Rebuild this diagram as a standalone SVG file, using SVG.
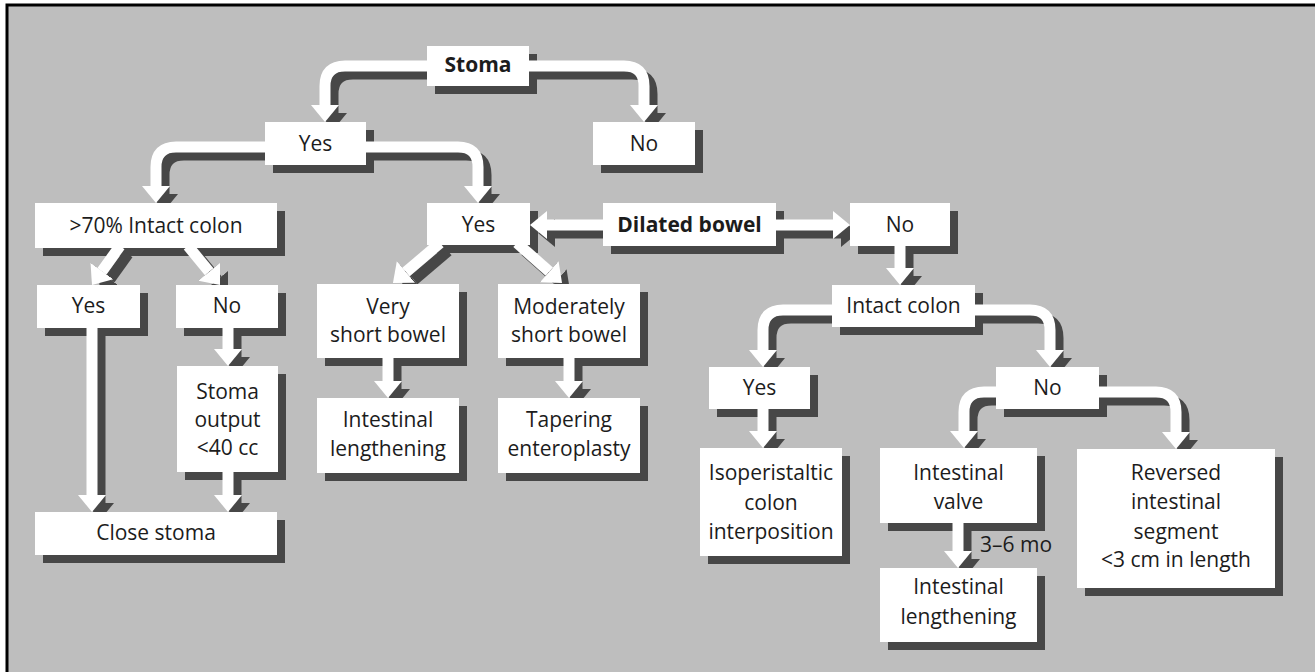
<svg xmlns="http://www.w3.org/2000/svg" xmlns:xlink="http://www.w3.org/1999/xlink" width="1315" height="672" viewBox="0 0 1315 672">
<style>
.bg{fill:#bebebe;stroke:#000;stroke-width:3}
.sh{fill:#474747}
.box{fill:#fff}
.t{font-family:"Open Sans","Liberation Sans",sans-serif;font-size:21px;fill:#1c1c1c;text-anchor:middle}
.b{font-weight:bold}
.cs{fill:none;stroke:#474747;stroke-width:11;stroke-linejoin:round;marker-end:url(#ah-s)}
.cw{fill:none;stroke:#fff;stroke-width:11;stroke-linejoin:round;marker-end:url(#ah-w)}
</style>
<defs>
<marker id="ah-w" markerUnits="userSpaceOnUse" viewBox="0 -15 17 30" markerWidth="17" markerHeight="30" refX="0" refY="0" orient="auto"><path d="M0,-14 L17,0 L0,14 Z" fill="#fff"/></marker>
<marker id="ah-s" markerUnits="userSpaceOnUse" viewBox="0 -15 17 30" markerWidth="17" markerHeight="30" refX="0" refY="0" orient="auto"><path d="M0,-14 L17,0 L0,14 Z" fill="#474747"/></marker>
<path id="c1" d="M427,66 H345 Q325,66 325,86 V105"/>
<path id="c2" d="M529,66 H624 Q644,66 644,86 V105"/>
<path id="c3" d="M265,147 H176 Q156,147 156,167 V186"/>
<path id="c4" d="M366,147 H458 Q478,147 478,167 V186"/>
<path id="c5" d="M120,246 L101.9,271.2"/>
<path id="c6" d="M188,246 L209.2,271.8"/>
<path id="c7" d="M92,328 V495"/>
<path id="c8" d="M228,328 V349"/>
<path id="c9" d="M228,472 V495"/>
<path id="c10" d="M440,243 L405.9,272"/>
<path id="c11" d="M517,243 L549.3,271.7"/>
<path id="c12" d="M388,358 V381"/>
<path id="c13" d="M569,358 V381"/>
<path id="c14" d="M603,225 H547"/>
<path id="c15" d="M776,225 H833"/>
<path id="c16" d="M900,246 V268"/>
<path id="c17" d="M832,310 H783 Q763,310 763,330 V350"/>
<path id="c18" d="M975,310 H1030 Q1050,310 1050,330 V350"/>
<path id="c19" d="M996,392 H984 Q964,392 964,412 V431"/>
<path id="c20" d="M1099,392 H1156 Q1176,392 1176,412 V432"/>
<path id="c21" d="M763,409 V431"/>
<path id="c22" d="M958,523 V551"/>
</defs>
<rect x="0" y="0" width="1315" height="672" fill="#fff"/>
<rect class="bg" x="7" y="5" width="1330" height="690"/>
<g id="node-shadows" class="sh" transform="translate(8,8)">
<rect x="427" y="46" width="102" height="40"/>
<rect x="265" y="122" width="101" height="43"/>
<rect x="593" y="122" width="102" height="43"/>
<rect x="35" y="203" width="242" height="45"/>
<rect x="427" y="203" width="103" height="42"/>
<rect x="603" y="203" width="173" height="43"/>
<rect x="850" y="203" width="100" height="43"/>
<rect x="37" y="285" width="103" height="43"/>
<rect x="176" y="285" width="102" height="43"/>
<rect x="177" y="366" width="101" height="106"/>
<rect x="35" y="512" width="242" height="43"/>
<rect x="317" y="284" width="142" height="74"/>
<rect x="498" y="284" width="142" height="74"/>
<rect x="317" y="398" width="142" height="75"/>
<rect x="498" y="398" width="142" height="75"/>
<rect x="832" y="285" width="143" height="42"/>
<rect x="709" y="367" width="101" height="42"/>
<rect x="996" y="367" width="103" height="42"/>
<rect x="700" y="448" width="142" height="108"/>
<rect x="880" y="448" width="157" height="75"/>
<rect x="880" y="568" width="157" height="74"/>
<rect x="1077" y="449" width="198" height="139"/>
</g>
<g id="connectors">
<g class="cs" transform="translate(8,8)">
<use href="#c1"/><use href="#c2"/><use href="#c3"/><use href="#c4"/><use href="#c5"/><use href="#c6"/><use href="#c7"/><use href="#c8"/><use href="#c9"/><use href="#c10"/><use href="#c11"/><use href="#c12"/><use href="#c13"/><use href="#c14"/><use href="#c15"/><use href="#c16"/><use href="#c17"/><use href="#c18"/><use href="#c19"/><use href="#c20"/><use href="#c21"/><use href="#c22"/>
</g>
<g class="cw">
<use href="#c1"/><use href="#c2"/><use href="#c3"/><use href="#c4"/><use href="#c5"/><use href="#c6"/><use href="#c7"/><use href="#c8"/><use href="#c9"/><use href="#c10"/><use href="#c11"/><use href="#c12"/><use href="#c13"/><use href="#c14"/><use href="#c15"/><use href="#c16"/><use href="#c17"/><use href="#c18"/><use href="#c19"/><use href="#c20"/><use href="#c21"/><use href="#c22"/>
</g>
<text class="t" x="980" y="552" style="text-anchor:start">3–6 mo</text>
</g>
<g id="n-stoma"><rect class="box" x="427" y="46" width="102" height="40"/><text class="t b" x="478" y="72">Stoma</text></g>
<g id="n-yes1"><rect class="box" x="265" y="122" width="101" height="43"/><text class="t" x="315.5" y="151">Yes</text></g>
<g id="n-no1"><rect class="box" x="593" y="122" width="102" height="43"/><text class="t" x="644" y="151">No</text></g>
<g id="n-intact70"><rect class="box" x="35" y="203" width="242" height="45"/><text class="t" x="156" y="233">&gt;70% Intact colon</text></g>
<g id="n-yes2"><rect class="box" x="427" y="203" width="103" height="42"/><text class="t" x="478.5" y="232">Yes</text></g>
<g id="n-dilated"><rect class="box" x="603" y="203" width="173" height="43"/><text class="t b" x="689.5" y="232">Dilated bowel</text></g>
<g id="n-no2"><rect class="box" x="850" y="203" width="100" height="43"/><text class="t" x="900" y="232">No</text></g>
<g id="n-yesA"><rect class="box" x="37" y="285" width="103" height="43"/><text class="t" x="88.5" y="313">Yes</text></g>
<g id="n-noA"><rect class="box" x="176" y="285" width="102" height="43"/><text class="t" x="227" y="313">No</text></g>
<g id="n-stomaout"><rect class="box" x="177" y="366" width="101" height="106"/><text class="t" x="227.5" y="399">Stoma</text><text class="t" x="227.5" y="427">output</text><text class="t" x="227.5" y="455">&lt;40 cc</text></g>
<g id="n-close"><rect class="box" x="35" y="512" width="242" height="43"/><text class="t" x="156" y="540">Close stoma</text></g>
<g id="n-veryshort"><rect class="box" x="317" y="284" width="142" height="74"/><text class="t" x="388" y="314">Very</text><text class="t" x="388" y="342">short bowel</text></g>
<g id="n-moderately"><rect class="box" x="498" y="284" width="142" height="74"/><text class="t" x="569" y="314">Moderately</text><text class="t" x="569" y="342">short bowel</text></g>
<g id="n-intlen1"><rect class="box" x="317" y="398" width="142" height="75"/><text class="t" x="388" y="427">Intestinal</text><text class="t" x="388" y="456">lengthening</text></g>
<g id="n-tapering"><rect class="box" x="498" y="398" width="142" height="75"/><text class="t" x="569" y="427">Tapering</text><text class="t" x="569" y="456">enteroplasty</text></g>
<g id="n-intactcolon"><rect class="box" x="832" y="285" width="143" height="42"/><text class="t" x="903.5" y="313">Intact colon</text></g>
<g id="n-yesB"><rect class="box" x="709" y="367" width="101" height="42"/><text class="t" x="759.5" y="395">Yes</text></g>
<g id="n-noB"><rect class="box" x="996" y="367" width="103" height="42"/><text class="t" x="1047.5" y="395">No</text></g>
<g id="n-iso"><rect class="box" x="700" y="448" width="142" height="108"/><text class="t" x="771" y="480">Isoperistaltic</text><text class="t" x="771" y="510">colon</text><text class="t" x="771" y="539">interposition</text></g>
<g id="n-valve"><rect class="box" x="880" y="448" width="157" height="75"/><text class="t" x="958.5" y="480">Intestinal</text><text class="t" x="958.5" y="509">valve</text></g>
<g id="n-intlen2"><rect class="box" x="880" y="568" width="157" height="74"/><text class="t" x="958.5" y="594">Intestinal</text><text class="t" x="958.5" y="624">lengthening</text></g>
<g id="n-reversed"><rect class="box" x="1077" y="449" width="198" height="139"/><text class="t" x="1176" y="480">Reversed</text><text class="t" x="1176" y="509">intestinal</text><text class="t" x="1176" y="539">segment</text><text class="t" x="1176" y="567">&lt;3 cm in length</text></g>
</svg>
